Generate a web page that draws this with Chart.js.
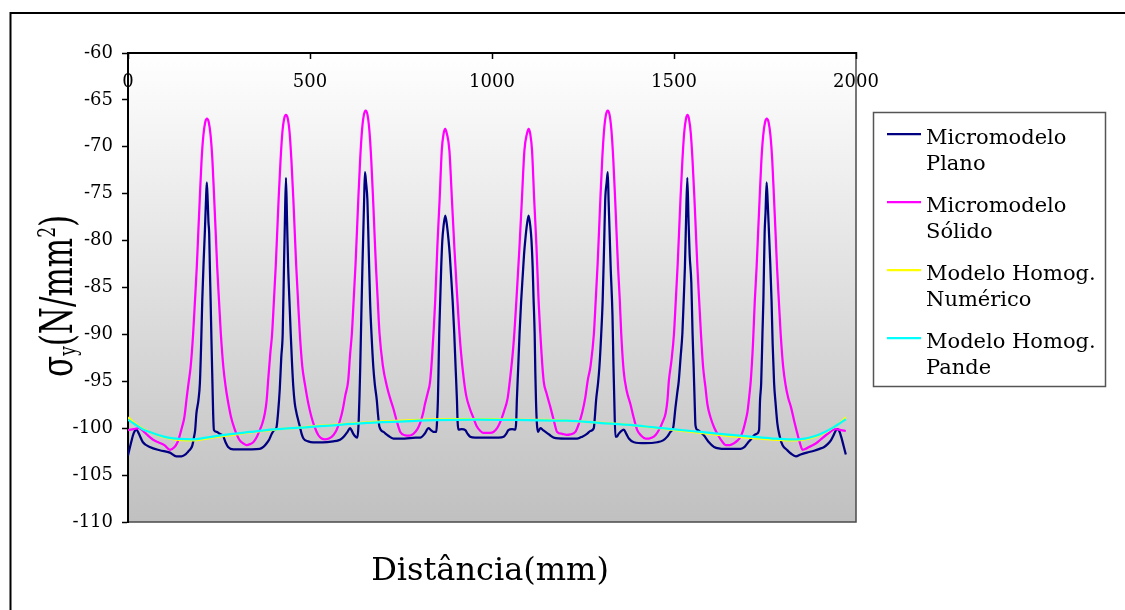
<!DOCTYPE html>
<html>
<head>
<meta charset="utf-8">
<title>Tensões σy</title>
<script src="https://cdn.jsdelivr.net/npm/chart.js@4.4.0/dist/chart.umd.min.js"></script>
<style>
  body { margin: 0; background: #fff; }
</style>
</head>
<body>
<canvas id="tensaoChart" width="1125" height="610"></canvas>
<script>
// Micromodelo plano
const distPlano = [0, 8, 16, 23, 30, 41, 60, 87, 115, 133, 147, 158, 165, 172, 177, 181, 184.5, 188, 193.5, 197.5,
  201, 204, 208, 211, 214, 216.5, 219, 221, 223, 225, 227, 229.5, 232, 234, 236, 244, 252, 261, 268, 275,
  289, 316, 340, 362, 372, 381, 388, 395, 402, 408, 412, 417, 421, 425, 428.5, 431, 434, 437, 440, 443.5,
  447, 450.5, 454, 458, 463, 468, 472.5, 477, 482, 495, 509, 535, 564, 578, 587, 595, 603, 610, 614, 619,
  625, 630, 633, 636, 638, 641, 644, 646.5, 648.7, 651, 654, 657.7, 661, 665, 669, 674, 678, 683.5, 687, 690.7,
  702, 715, 729, 760, 790, 803, 815, 825.6, 832, 839, 847, 849, 851.4, 853, 855, 858, 860.5, 863.5, 866.8, 871.5,
  876, 880.6, 884, 887.2, 892, 896.3, 900, 903.7, 905.5, 908, 917, 926.6, 933, 940, 954, 968, 986, 1004, 1018, 1032,
  1039, 1045, 1055, 1064, 1066.5, 1068.3, 1072, 1075.7, 1080, 1084.8, 1088, 1091.4, 1096, 1100.7, 1105.4, 1108.5, 1111.7, 1114, 1117.2, 1119,
  1120.8, 1123, 1126, 1133, 1140, 1147, 1158, 1169.5, 1200, 1234, 1248, 1261, 1270, 1279.6, 1283, 1286, 1291, 1295, 1300, 1304,
  1308, 1311, 1315, 1318, 1320.3, 1323, 1326, 1331, 1333.5, 1336, 1339, 1343, 1348, 1355, 1362, 1369, 1376, 1390, 1420, 1454,
  1470, 1481.5, 1490, 1498, 1504, 1509, 1513, 1518, 1523, 1527, 1530, 1533, 1536.6, 1540, 1543, 1547.6, 1551, 1554, 1557, 1559,
  1565, 1572, 1582, 1596, 1610, 1640, 1683, 1694, 1702, 1711, 1720, 1727, 1733.7, 1736.4, 1739.5, 1743, 1745.5, 1749, 1751.5, 1754.5,
  1757.5, 1761, 1764, 1768, 1771, 1775, 1779, 1784, 1790, 1798, 1810, 1821, 1835, 1848, 1865, 1885, 1900, 1912.5, 1922, 1931,
  1939, 1945, 1950, 1954, 1960, 1966, 1972];
const tensaoPlano = [-102.9, -101.6, -100.5, -100.15, -100.6, -101.5, -102.0, -102.35, -102.6, -103.0, -103.0, -102.8, -102.5, -102.2, -101.8, -101.0, -100.2, -98.4, -97.0, -95.2,
  -91.0, -86.4, -82.0, -79.2, -76.0, -73.8, -75.8, -78.0, -79.2, -83.0, -86.4, -91.0, -95.2, -98.5, -100.2, -100.4, -100.6, -100.8, -101.5, -102.0,
  -102.25, -102.25, -102.25, -102.2, -102.0, -101.6, -101.2, -100.6, -100.2, -99.9, -98.5, -95.8, -92.5, -89.9, -82.8, -78.0, -73.3, -78.0, -82.8, -86.4,
  -89.9, -93.0, -95.5, -97.3, -98.4, -99.2, -99.9, -100.6, -101.1, -101.4, -101.5, -101.5, -101.4, -101.3, -101.1, -100.8, -100.4, -100.0, -100.2, -100.6,
  -100.9, -101.0, -99.9, -96.5, -93.5, -88.0, -82.8, -79.0, -75.7, -72.7, -73.8, -75.7, -80.5, -86.4, -90.0, -93.5, -95.3, -97.0, -98.6, -99.85,
  -100.4, -100.8, -101.1, -101.1, -101.0, -101.0, -100.6, -100.0, -100.2, -100.4, -100.4, -99.3, -97.0, -94.0, -89.9, -86.0, -82.8, -80.0, -78.5, -77.35,
  -78.3, -79.95, -81.5, -83.5, -86.5, -89.9, -93.5, -97.0, -99.3, -100.15, -100.1, -100.2, -100.6, -100.9, -101.0, -101.0, -101.0, -101.0, -101.0, -100.9,
  -100.6, -100.2, -100.1, -100.15, -99.3, -97.0, -93.5, -89.9, -86.5, -83.5, -81.5, -79.95, -78.3, -77.35, -78.5, -80.0, -82.8, -86.0, -89.9, -94.0,
  -97.0, -99.3, -100.4, -100.0, -100.2, -100.4, -100.7, -101.0, -101.1, -101.1, -100.9, -100.6, -100.3, -100.0, -98.6, -97.0, -95.3, -93.5, -90.0, -86.4,
  -80.5, -75.7, -73.8, -72.7, -75.7, -79.0, -82.8, -88.0, -93.0, -97.0, -100.9, -100.9, -100.6, -100.3, -100.15, -100.6, -101.1, -101.5, -101.6, -101.5,
  -101.3, -100.9, -100.4, -99.9, -97.8, -96.2, -95.0, -92.5, -89.9, -86.0, -82.8, -78.0, -73.3, -78.0, -81.5, -84.5, -89.9, -93.5, -97.5, -99.7,
  -100.2, -100.4, -100.75, -101.5, -102.0, -102.2, -102.2, -102.0, -101.6, -101.2, -100.75, -100.6, -100.2, -97.0, -95.2, -89.9, -86.4, -79.2, -77.0, -73.8,
  -76.0, -79.2, -82.0, -86.4, -91.0, -95.2, -97.3, -99.5, -100.8, -101.8, -102.3, -102.7, -103.0, -102.8, -102.6, -102.4, -102.2, -102.0, -101.7, -101.3,
  -100.7, -100.2, -100.1, -100.3, -101.0, -101.9, -102.8];

// Micromodelo sólido
const distSolido = [0, 15, 30, 42, 55, 68, 83, 100, 115, 128, 136, 142, 149, 155, 162, 167, 172, 179, 184, 189,
  193, 197, 202, 207, 212, 217, 222, 227, 232, 237, 241, 245, 250, 255, 262, 268, 274, 283, 292, 299,
  307, 316, 326, 335, 344, 353, 362, 369, 376, 381, 385, 391, 396, 401, 406, 410, 414, 419, 424, 429,
  434, 439, 444, 449, 454, 458, 462, 467, 472, 479, 486, 495, 504, 513, 523, 532, 541, 552, 564, 573,
  582.6, 590, 597, 605, 610, 615, 620, 625, 629, 633, 638, 643, 648, 653, 658, 663, 668, 673, 677, 681,
  686, 691, 700, 711, 720, 729, 738, 748, 761, 772, 784, 795, 803, 810, 816, 823, 830, 836, 844, 850,
  856, 862, 867, 871.5, 876, 883, 890, 897, 905, 910, 915, 922, 929, 939, 949, 958, 968, 977, 986, 995,
  1004, 1014, 1023, 1033, 1043, 1050, 1057, 1062, 1067, 1075, 1082, 1089, 1096, 1100.7, 1105, 1110, 1116, 1122, 1128, 1136,
  1142, 1150, 1160, 1170, 1179, 1193, 1205, 1215, 1229, 1238, 1248, 1256, 1263, 1271, 1280, 1285, 1290, 1294, 1298, 1303,
  1308, 1313, 1318, 1323, 1328, 1333, 1338, 1342, 1346, 1351, 1355, 1362, 1370, 1380, 1390, 1399, 1410, 1422, 1431, 1440,
  1450, 1458.5, 1468, 1477, 1482, 1486, 1493, 1500, 1505, 1510, 1514, 1518, 1523, 1528, 1533, 1537, 1541, 1546, 1551, 1556,
  1560, 1564, 1569, 1574, 1580, 1586, 1592, 1600, 1610, 1619, 1630, 1642, 1653, 1665, 1675, 1683, 1690, 1696, 1702, 1707,
  1711, 1717, 1722, 1727, 1731, 1735, 1740, 1745, 1750, 1755, 1760, 1765, 1770, 1775, 1779, 1783, 1788, 1793, 1800, 1807,
  1814, 1821, 1830, 1839, 1846, 1853, 1862, 1871, 1882, 1894, 1906, 1917, 1926, 1935.6, 1945, 1958, 1972];
const tensaoSolido = [-100.2, -100.1, -100.0, -100.3, -100.8, -101.2, -101.5, -101.8, -102.3, -102.0, -101.5, -100.8, -99.8, -98.8, -96.5, -95.0, -93.5, -89.9, -86.4, -82.8,
  -79.2, -75.7, -71.5, -68.8, -67.4, -67.0, -67.4, -68.8, -71.5, -75.7, -79.2, -82.8, -86.4, -89.9, -93.5, -95.5, -97.0, -98.8, -100.0, -100.7,
  -101.3, -101.6, -101.8, -101.7, -101.5, -101.0, -100.2, -99.5, -98.4, -97.0, -94.9, -92.0, -89.9, -86.3, -82.6, -79.0, -75.4, -71.5, -68.5, -67.0,
  -66.6, -67.0, -68.5, -71.5, -75.4, -79.0, -82.6, -86.3, -89.9, -93.5, -95.3, -97.3, -98.8, -99.9, -100.75, -101.1, -101.2, -101.1, -100.75, -100.2,
  -99.15, -98.0, -96.5, -94.9, -92.2, -89.9, -86.3, -82.6, -79.0, -75.3, -71.2, -68.2, -66.6, -66.15, -66.6, -68.2, -71.2, -75.3, -79.0, -82.6,
  -86.3, -89.9, -93.3, -95.5, -96.8, -97.9, -99.2, -100.4, -100.75, -100.8, -100.6, -100.1, -99.4, -98.5, -97.4, -96.3, -95.0, -92.0, -86.4, -80.5,
  -75.7, -70.4, -68.6, -68.1, -68.6, -70.4, -75.7, -81.0, -86.4, -89.5, -92.0, -94.6, -96.5, -97.9, -98.9, -99.8, -100.3, -100.5, -100.5, -100.5,
  -100.4, -100.0, -99.3, -98.2, -96.8, -94.6, -92.0, -89.5, -86.4, -81.0, -75.7, -70.4, -68.6, -68.1, -68.6, -70.4, -75.7, -80.5, -86.4, -92.0,
  -95.0, -96.3, -97.7, -99.2, -100.4, -100.6, -100.7, -100.65, -100.4, -99.6, -98.3, -96.8, -94.9, -93.3, -89.9, -86.3, -82.6, -79.0, -75.3, -71.2,
  -68.2, -66.6, -66.15, -66.6, -68.2, -71.2, -75.3, -79.0, -82.6, -86.3, -89.9, -94.0, -96.0, -97.4, -99.0, -100.2, -100.8, -101.1, -101.1, -101.0,
  -100.7, -100.2, -99.4, -98.4, -97.0, -94.9, -92.8, -89.9, -86.3, -82.6, -79.0, -75.4, -71.5, -68.5, -67.0, -66.6, -67.0, -68.5, -71.5, -75.4,
  -79.0, -82.6, -86.3, -89.9, -93.5, -95.5, -97.5, -98.8, -99.9, -100.6, -101.3, -101.8, -101.8, -101.6, -101.3, -100.9, -100.2, -99.3, -98.2, -96.5,
  -94.9, -91.0, -86.4, -82.8, -79.2, -75.7, -71.5, -68.8, -67.4, -67.0, -67.4, -68.8, -71.5, -75.7, -79.2, -82.8, -86.4, -89.9, -93.5, -95.5,
  -96.8, -97.7, -99.2, -100.6, -101.6, -102.3, -102.2, -102.0, -101.8, -101.5, -101.1, -100.75, -100.5, -100.2, -100.1, -100.2, -100.3];

// Modelos homogeneizados (mesmas abscissas)
const distHomog = [0, 20, 40, 60, 85, 110, 140, 179, 215, 250, 289, 335, 381, 430, 472, 520, 564, 610, 656, 700,
  748, 800, 839, 900, 960, 1023, 1100, 1206, 1300, 1390, 1480, 1573, 1640, 1711, 1770, 1821, 1860, 1894, 1920, 1940,
  1958, 1972];
const tensaoNumerico = [-98.85, -99.5, -100.05, -100.4, -100.8, -101.05, -101.25, -101.3, -101.1, -100.9, -100.7, -100.45, -100.25, -100.05, -99.93, -99.75, -99.65, -99.5, -99.38, -99.28,
  -99.2, -99.12, -99.07, -99.03, -99.02, -99.05, -99.1, -99.18, -99.42, -99.7, -100.1, -100.5, -100.78, -101.02, -101.22, -101.3, -101.2, -100.82, -100.35, -99.85,
  -99.35, -98.85];
const tensaoPande = [-99.1, -99.6, -100.1, -100.4, -100.75, -101.0, -101.15, -101.2, -101.0, -100.8, -100.6, -100.4, -100.2, -100.05, -99.95, -99.8, -99.7, -99.55, -99.44, -99.35,
  -99.3, -99.2, -99.15, -99.1, -99.08, -99.1, -99.15, -99.2, -99.45, -99.7, -100.05, -100.4, -100.65, -100.9, -101.1, -101.2, -101.1, -100.75, -100.3, -99.86,
  -99.4, -99.05];

const yTicks = [-110, -105, -100, -95, -90, -85, -80, -75, -70, -65, -60];
const xTicks = [0, 500, 1000, 1500, 2000];

const seriesNames = [['Micromodelo', 'Plano'], ['Micromodelo', 'Sólido'], ['Modelo Homog.', 'Numérico'], ['Modelo Homog.', 'Pande']];
const seriesColors = ['#000080', '#ff00ff', '#ffff00', '#00ffff'];

const FONT = "'DejaVu Serif', 'Liberation Serif', serif";

function pontos(xs, ys) {
  return xs.map((x, i) => ({ x: x, y: ys[i] }));
}

// fundo degrade da area de plotagem e moldura externa
const fundo = {
  id: 'fundo',
  beforeDraw(chart) {
    const ctx = chart.ctx;
    const a = chart.chartArea;
    ctx.save();
    ctx.fillStyle = '#fff';
    ctx.fillRect(0, 0, chart.width, chart.height);

    const grad = ctx.createLinearGradient(0, a.top, 0, a.bottom);
    grad.addColorStop(0, '#ffffff');
    grad.addColorStop(1, '#c0c0c0');
    ctx.fillStyle = grad;
    ctx.fillRect(a.left, a.top, a.right - a.left, a.bottom - a.top);

    ctx.strokeStyle = '#4a4a4a';
    ctx.lineWidth = 1.5;
    ctx.strokeRect(a.left, a.top, a.right - a.left, a.bottom - a.top);

    ctx.strokeStyle = '#000';
    ctx.lineWidth = 2;
    ctx.beginPath();
    ctx.moveTo(10.5, chart.height);
    ctx.lineTo(10.5, 13);
    ctx.lineTo(chart.width, 13);
    ctx.stroke();
    ctx.restore();
  }
};

// titulos dos eixos e legenda
const rotulos = {
  id: 'rotulos',
  afterDraw(chart) {
    const ctx = chart.ctx;
    ctx.save();
    ctx.fillStyle = '#000';
    ctx.textBaseline = 'alphabetic';

    // eixo x
    ctx.font = '32px ' + FONT;
    ctx.textAlign = 'center';
    ctx.fillText('Distância(mm)', 490, 580);

    // eixo y: sigma com indice y e expoente 2
    ctx.save();
    ctx.translate(72, 377);
    ctx.rotate(-Math.PI / 2);
    ctx.scale(1, 1.45);
    ctx.textAlign = 'left';
    const partes = [['σ', 31, 0], ['y', 17, 3], ['(N/mm', 31, 0], ['2', 17, -12], [')', 31, 0]];
    let pos = 0;
    partes.forEach(p => {
      ctx.font = p[1] + 'px ' + FONT;
      ctx.fillText(p[0], pos, p[2]);
      pos += ctx.measureText(p[0]).width;
    });
    ctx.restore();

    // legenda
    ctx.strokeStyle = '#555';
    ctx.lineWidth = 1.5;
    ctx.strokeRect(873.5, 112.5, 232, 274);
    ctx.font = '21px ' + FONT;
    ctx.textAlign = 'left';
    seriesNames.forEach((nome, i) => {
      const y = 134 + i * 68;
      ctx.strokeStyle = seriesColors[i];
      ctx.lineWidth = 2.25;
      ctx.beginPath();
      ctx.moveTo(887, y);
      ctx.lineTo(921, y);
      ctx.stroke();
      ctx.fillText(nome[0], 926, y + 9.5);
      ctx.fillText(nome[1], 926, y + 35.5);
    });
    ctx.restore();
  }
};

const data = {
  datasets: [
    { label: 'Micromodelo Plano', data: pontos(distPlano, tensaoPlano), borderColor: seriesColors[0], order: 4 },
    { label: 'Micromodelo Sólido', data: pontos(distSolido, tensaoSolido), borderColor: seriesColors[1], order: 3 },
    { label: 'Modelo Homog. Numérico', data: pontos(distHomog, tensaoNumerico), borderColor: seriesColors[2], order: 2 },
    { label: 'Modelo Homog. Pande', data: pontos(distHomog, tensaoPande), borderColor: seriesColors[3], order: 1 }
  ]
};

const options = {
  responsive: false,
  animation: false,
  events: [],
  layout: { padding: { left: 10, top: 53, right: 269, bottom: 88 } },
  elements: {
    point: { radius: 0 },
    line: { borderWidth: 2.25, cubicInterpolationMode: 'monotone', fill: false }
  },
  scales: {
    x: {
      type: 'linear',
      position: 'top',
      min: xTicks[0],
      max: xTicks[xTicks.length - 1],
      afterFit: s => { s.height = 0; },
      afterBuildTicks: s => { s.ticks = xTicks.map(v => ({ value: v })); },
      grid: { drawOnChartArea: false, tickLength: -6, tickColor: '#000', tickWidth: 1.5 },
      border: { color: '#000', width: 2 },
      ticks: {
        mirror: true,
        padding: 19,
        maxRotation: 0,
        autoSkip: false,
        color: '#000',
        font: { family: FONT, size: 18 },
        callback: v => String(v)
      }
    },
    y: {
      min: yTicks[0],
      max: yTicks[yTicks.length - 1],
      afterFit: s => { s.width = 118; },
      afterBuildTicks: s => { s.ticks = yTicks.map(v => ({ value: v })); },
      grid: { drawOnChartArea: false, tickLength: 6, tickColor: '#000', tickWidth: 1.5 },
      border: { color: '#000', width: 2 },
      ticks: {
        padding: 9,
        color: '#000',
        font: { family: FONT, size: 18 },
        callback: v => String(v)
      }
    }
  },
  plugins: {
    legend: { display: false },
    tooltip: { enabled: false }
  }
};

const ctx = document.getElementById('tensaoChart').getContext('2d');

const tensaoChart = new Chart(ctx, {
  type: 'line',
  data: data,
  options: options,
  plugins: [fundo, rotulos]
});
</script>
</body>
</html>
